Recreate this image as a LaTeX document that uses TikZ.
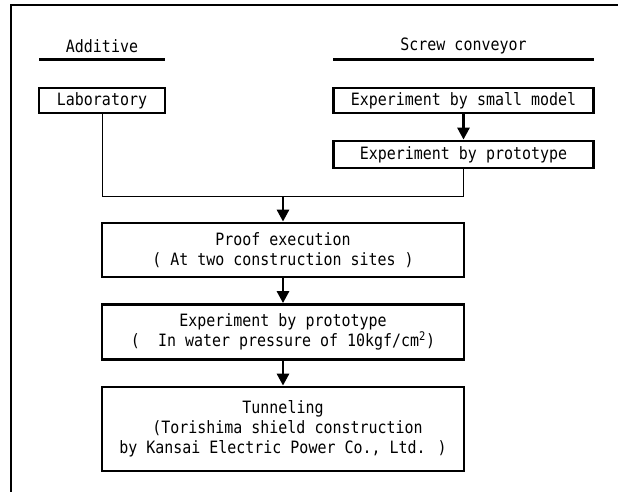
\documentclass[tikz,border=0pt]{standalone}
\usepackage{fontspec}
\setmainfont[FakeStretch=0.88]{DejaVu Sans Mono}
\usetikzlibrary{arrows.meta}
\begin{document}
\begin{tikzpicture}[x=1pt,y=-1pt,
  every node/.style={font=\fontsize{17}{20}\selectfont},
  box/.style={draw,line width=2.8pt,rectangle,inner sep=0pt,align=center},
  thin/.style={line width=0.9pt},
  bigarrow/.style={line width=2.8pt,-{Triangle[length=12pt,width=12pt]}},
  frame/.style={line width=2.8pt},
  uline/.style={line width=2.2pt}]
\useasboundingbox (0,0) rectangle (618,492);
% frame (top and left sides only)
\coordinate (fb) at (11,492);
\coordinate (fc) at (11,5);
\coordinate (fr) at (618,5);
\draw[frame] (fb) -- (fc) -- (fr);
% headings
\node (add) at (102,46) {Additive};
\node (scr) at (463.5,46) {Screw conveyor};
\coordinate (addl) at (39,59.5); \coordinate (addr) at (165,59.5);
\coordinate (scrl) at (333,59.5); \coordinate (scrr) at (594,59.5);
\draw[uline] (addl) -- (addr);
\draw[uline] (scrl) -- (scrr);
% boxes
\node[box,minimum width=126pt,minimum height=25pt] (lab) at (102,100.5) {Laboratory};
\node[box,minimum width=260pt,minimum height=25pt] (small) at (463.5,100.5) {Experiment by small model};
\node[box,minimum width=260pt,minimum height=27pt] (proto) at (463.5,154.5) {Experiment by prototype};
\node[box,minimum width=362pt,minimum height=54pt] (proof) at (283,250) {Proof execution\\( At two construction sites )};
\node[box,minimum width=362pt,minimum height=55pt] (press) at (283,332) {Experiment by prototype\\(\ \ In water pressure of 10kgf/cm\textsuperscript{2})};
\node[box,minimum width=362pt,minimum height=84pt] (tunnel) at (283,429) {Tunneling\\\ (Torishima shield construction\\by Kansai Electric Power Co., Ltd. )};
% connectors
\coordinate (j) at (283,196.5);
\draw[bigarrow] (small.south) -- (proto.north);
\draw[thin] (lab.south) |- (j);
\draw[thin] (proto.south) |- (j);
\draw[bigarrow] (j) -- (proof.north);
\draw[bigarrow] (proof.south) -- (press.north);
\draw[bigarrow] (press.south) -- (tunnel.north);
\end{tikzpicture}
\end{document}
